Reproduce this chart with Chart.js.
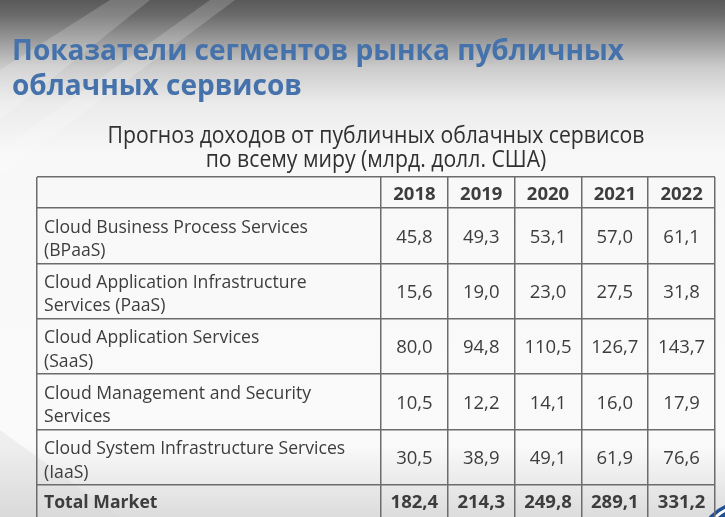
<!DOCTYPE html>
<html lang="ru">
<head>
<meta charset="utf-8">
<title>Показатели сегментов рынка публичных облачных сервисов</title>
<script src="https://cdn.jsdelivr.net/npm/chart.js@4.4.1/dist/chart.umd.min.js"></script>
<style>
  html, body { margin: 0; padding: 0; background: #fff; overflow: hidden; }
  #wrap { width: 725px; height: 517px; }
</style>
</head>
<body>
<div id="wrap"><canvas id="table-chart" width="725" height="517"></canvas></div>
<script>
// ---- Data ----
const years = ['2018', '2019', '2020', '2021', '2022'];
const segmentNames = [
  ['Cloud Business Process Services', '(BPaaS)'],
  ['Cloud Application Infrastructure', 'Services (PaaS)'],
  ['Cloud Application Services', '(SaaS)'],
  ['Cloud Management and Security', 'Services'],
  ['Cloud System Infrastructure Services', '(IaaS)']
];
const bpaas = [45.8, 49.3, 53.1, 57.0, 61.1];
const paas = [15.6, 19.0, 23.0, 27.5, 31.8];
const saas = [80.0, 94.8, 110.5, 126.7, 143.7];
const mgmt = [10.5, 12.2, 14.1, 16.0, 17.9];
const iaas = [30.5, 38.9, 49.1, 61.9, 76.6];
const totalMarket = [182.4, 214.3, 249.8, 289.1, 331.2];
const totalLabel = 'Total Market';

const titleLines = ['Показатели сегментов рынка публичных', 'облачных сервисов'];
const subtitleLines = ['Прогноз доходов от публичных облачных сервисов', 'по всему миру (млрд. долл. США)'];

const segmentValues = [bpaas, paas, saas, mgmt, iaas];

// ---- Layout (table geometry in scale units) ----
const LABEL_W = 5.15;  // first column, in year-column widths
const HEAD_H = 0.56;   // header row, in body-row heights
const FOOT_H = 0.58;   // total row
const TEXT = '#3d3d3d';
const BORDER = '#6c6c6c';

const xBounds = [0, LABEL_W];
years.forEach((_, j) => xBounds.push(LABEL_W + j + 1));
const yBounds = [0, HEAD_H];
segmentValues.forEach((_, i) => yBounds.push(HEAD_H + i + 1));
const yMax = HEAD_H + segmentValues.length + FOOT_H;

const fmt = v => v.toFixed(1).replace('.', ',');

// draw text squeezed horizontally by factor k
function fitText(ctx, text, x, y, k) {
  ctx.save();
  ctx.translate(x, y);
  ctx.scale(k, 1);
  ctx.textAlign = 'left';
  ctx.fillText(text, 0, 0);
  ctx.restore();
}

// ---- Datasets: one invisible point per cell, text drawn on top ----
function cellRow(values, yCenter, bold, isHeader) {
  return {
    data: values.map((_, j) => ({ x: LABEL_W + j + 0.5, y: yCenter })),
    cellText: values.map(v => isHeader ? v : fmt(v)),
    bold: bold,
    pointRadius: 0,
    pointHoverRadius: 0
  };
}
const datasets = [cellRow(years, HEAD_H / 2, true, true)];
segmentValues.forEach((vals, i) => datasets.push(cellRow(vals, HEAD_H + i + 0.5, false, false)));
datasets.push(cellRow(totalMarket, HEAD_H + segmentValues.length + FOOT_H / 2, true, false));

// ---- Plugins ----
const slideBackground = {
  id: 'slideBackground',
  beforeDraw(chart) {
    const { ctx, width, height } = chart;
    ctx.save();
    const g = ctx.createLinearGradient(0, 0, 0, height);
    g.addColorStop(0, '#595959');
    g.addColorStop(0.03, '#6b6b6b');
    g.addColorStop(0.08, '#9c9c9c');
    g.addColorStop(0.13, '#cbcbcb');
    g.addColorStop(0.2, '#ebebeb');
    g.addColorStop(0.3, '#f8f8f8');
    g.addColorStop(0.86, '#fafafa');
    g.addColorStop(1, '#dcdcdc');
    ctx.fillStyle = g;
    ctx.fillRect(0, 0, width, height);

    // faint light rays on the left
    ctx.globalAlpha = 0.18;
    ctx.fillStyle = '#ffffff';
    ctx.beginPath();
    ctx.moveTo(0, 70); ctx.lineTo(110, 0); ctx.lineTo(150, 0); ctx.lineTo(0, 120);
    ctx.closePath(); ctx.fill();
    ctx.beginPath();
    ctx.moveTo(0, 150); ctx.lineTo(210, 0); ctx.lineTo(235, 0); ctx.lineTo(0, 175);
    ctx.closePath(); ctx.fill();
    ctx.fillStyle = '#d4d4d4';
    ctx.globalAlpha = 0.3;
    ctx.beginPath();
    ctx.moveTo(0, 430); ctx.lineTo(120, 517); ctx.lineTo(0, 517);
    ctx.closePath(); ctx.fill();
    ctx.restore();

    // corner logo peeking in at bottom right
    ctx.save();
    ctx.beginPath();
    ctx.arc(744, 548, 47, 0, Math.PI * 2);
    ctx.fillStyle = '#1f4f96';
    ctx.fill();
    ctx.lineWidth = 3;
    ctx.strokeStyle = '#ffffff';
    ctx.beginPath();
    ctx.arc(744, 548, 42, 0, Math.PI * 2);
    ctx.stroke();
    ctx.restore();

    // titles
    ctx.save();
    ctx.fillStyle = '#4572ab';
    ctx.font = 'bold 28px "Open Sans"';
    const kt = 612 / ctx.measureText(titleLines[0]).width;
    fitText(ctx, titleLines[0], 12, 59.5, kt);
    fitText(ctx, titleLines[1], 12, 95, kt);

    ctx.fillStyle = '#303030';
    ctx.font = '23px "Open Sans"';
    const ks = 537 / ctx.measureText(subtitleLines[0]).width;
    const cx = chart.chartArea.left + (chart.chartArea.right - chart.chartArea.left) / 2;
    subtitleLines.forEach((line, i) => {
      const w = ctx.measureText(line).width * ks;
      fitText(ctx, line, cx - w / 2, 143.3 + i * 23.4, ks);
    });
    ctx.restore();
  }
};

const cellTextPlugin = {
  id: 'cellText',
  afterDatasetsDraw(chart) {
    const { ctx } = chart;
    const xs = chart.scales.x, ys = chart.scales.y;
    ctx.save();
    ctx.fillStyle = TEXT;
    ctx.textBaseline = 'alphabetic';

    // number cells
    chart.data.datasets.forEach((ds, d) => {
      const meta = chart.getDatasetMeta(d);
      ctx.font = (ds.bold ? 'bold ' : '') + '18.5px "Open Sans"';
      ctx.textAlign = 'center';
      meta.data.forEach((pt, j) => {
        ctx.fillText(ds.cellText[j], pt.x, pt.y + 7);
      });
    });

    // first column labels
    const left = xs.getPixelForValue(0) + 7;
    ctx.font = '18.5px "Open Sans"';
    const kl = 264 / ctx.measureText(segmentNames[0][0]).width;
    segmentNames.forEach((lines, i) => {
      const top = ys.getPixelForValue(HEAD_H + i);
      lines.forEach((line, li) => fitText(ctx, line, left, top + 24.5 + li * 23.5, kl));
    });
    ctx.font = 'bold 18.5px "Open Sans"';
    const fy = ys.getPixelForValue(HEAD_H + segmentValues.length + FOOT_H / 2);
    fitText(ctx, totalLabel, left, fy + 7, kl);
    ctx.restore();
  }
};

// ---- Chart ----
new Chart(document.getElementById('table-chart').getContext('2d'), {
  type: 'scatter',
  data: { datasets: datasets },
  options: {
    responsive: false,
    animation: false,
    events: [],
    layout: { padding: { left: 37, right: 10, top: 177, bottom: 0 } },
    scales: {
      x: {
        type: 'linear',
        min: 0,
        max: LABEL_W + years.length,
        afterBuildTicks: s => { s.ticks = xBounds.map(v => ({ value: v })); },
        ticks: { display: false },
        border: { display: false },
        grid: { color: BORDER, lineWidth: 1.5, drawTicks: false }
      },
      y: {
        type: 'linear',
        reverse: true,
        min: 0,
        max: yMax,
        afterBuildTicks: s => { s.ticks = yBounds.map(v => ({ value: v })); },
        ticks: { display: false },
        border: { display: false },
        grid: { color: BORDER, lineWidth: 1.5, drawTicks: false }
      }
    },
    plugins: {
      legend: { display: false },
      tooltip: { enabled: false },
      title: { display: false }
    }
  },
  plugins: [slideBackground, cellTextPlugin]
});
</script>
</body>
</html>
